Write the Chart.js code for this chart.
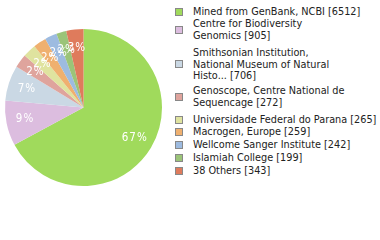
<!DOCTYPE html>
<html>
<head>
<meta charset="utf-8">
<script src="https://cdn.jsdelivr.net/npm/chart.js@4.4.0/dist/chart.umd.min.js"></script>
<style>
  body { margin: 0; background: #fff; width: 380px; height: 240px; overflow: hidden; position: relative; }
  #wrap { position: absolute; left: 0; top: 0; width: 167px; height: 215px; }
  #legend { position: absolute; left: 0; top: 0; font-family: "DejaVu Sans Condensed", "DejaVu Sans", sans-serif; font-size: 10.8px; color: #222; }
  .item { position: absolute; left: 175px; white-space: nowrap; }
  .box { position: absolute; left: 0; width: 6px; height: 6px; border: 1px solid #888; }
  .txt { position: absolute; left: 18px; line-height: 11.5px; }
</style>
</head>
<body>
<div id="wrap"><canvas id="pie"></canvas></div>
<div id="legend"></div>
<script>
// data
const labels = [
    ['Mined from GenBank, NCBI [6512]'],
    ['Centre for Biodiversity', 'Genomics [905]'],
    ['Smithsonian Institution,', 'National Museum of Natural', 'Histo... [706]'],
    ['Genoscope, Centre National de', 'Sequencage [272]'],
    ['Universidade Federal do Parana [265]'],
    ['Macrogen, Europe [259]'],
    ['Wellcome Sanger Institute [242]'],
    ['Islamiah College [199]'],
    ['38 Others [343]']
];
const counts = [6512, 905, 706, 272, 265, 259, 242, 199, 343];
const colors = ['#a0da5c', '#dcbddf', '#cad8e4', '#dfa49d', '#dfe39f', '#efb06f', '#9dbbe0', '#9bc478', '#df7b5c'];

// legend top of each item (layout)
const legendTop = [6, 18, 47, 85, 114, 126, 139, 152, 165];

const legend = document.getElementById('legend');
labels.forEach((lines, i) => {
    const item = document.createElement('div');
    item.className = 'item';
    item.style.top = legendTop[i] + 'px';
    const h = lines.length * 11.5;
    const box = document.createElement('div');
    box.className = 'box';
    box.style.top = (h / 2 - 4) + 'px';
    box.style.background = colors[i];
    const txt = document.createElement('div');
    txt.className = 'txt';
    txt.innerHTML = lines.join('<br>');
    item.appendChild(box);
    item.appendChild(txt);
    legend.appendChild(item);
});

const total = counts.reduce((a, b) => a + b, 0);

// percentage labels inside slices
const pctLabels = {
    id: 'pctLabels',
    afterDatasetsDraw(chart) {
        const ctx = chart.ctx;
        const meta = chart.getDatasetMeta(0);
        ctx.save();
        ctx.fillStyle = '#fff';
        ctx.font = '11.5px "DejaVu Sans Condensed", "DejaVu Sans", sans-serif';
        ctx.textAlign = 'center';
        ctx.textBaseline = 'middle';
        if ('letterSpacing' in ctx) ctx.letterSpacing = '1px';
        meta.data.forEach((arc, i) => {
            const a = (arc.startAngle + arc.endAngle) / 2;
            const r = arc.outerRadius * 0.76;
            const pct = Math.floor(counts[i] / total * 100);
            ctx.fillText(pct + '%', arc.x + Math.cos(a) * r, arc.y + Math.sin(a) * r);
        });
        ctx.restore();
    }
};

new Chart(document.getElementById('pie'), {
    type: 'pie',
    data: {
        labels: labels.map(l => l.join(' ')),
        datasets: [{
            data: counts,
            backgroundColor: colors,
            borderWidth: 0
        }]
    },
    options: {
        responsive: true,
        maintainAspectRatio: false,
        animation: false,
        layout: { padding: 5 },
        plugins: {
            legend: false,
            tooltip: { enabled: false }
        }
    },
    plugins: [pctLabels]
});
</script>
</body>
</html>
